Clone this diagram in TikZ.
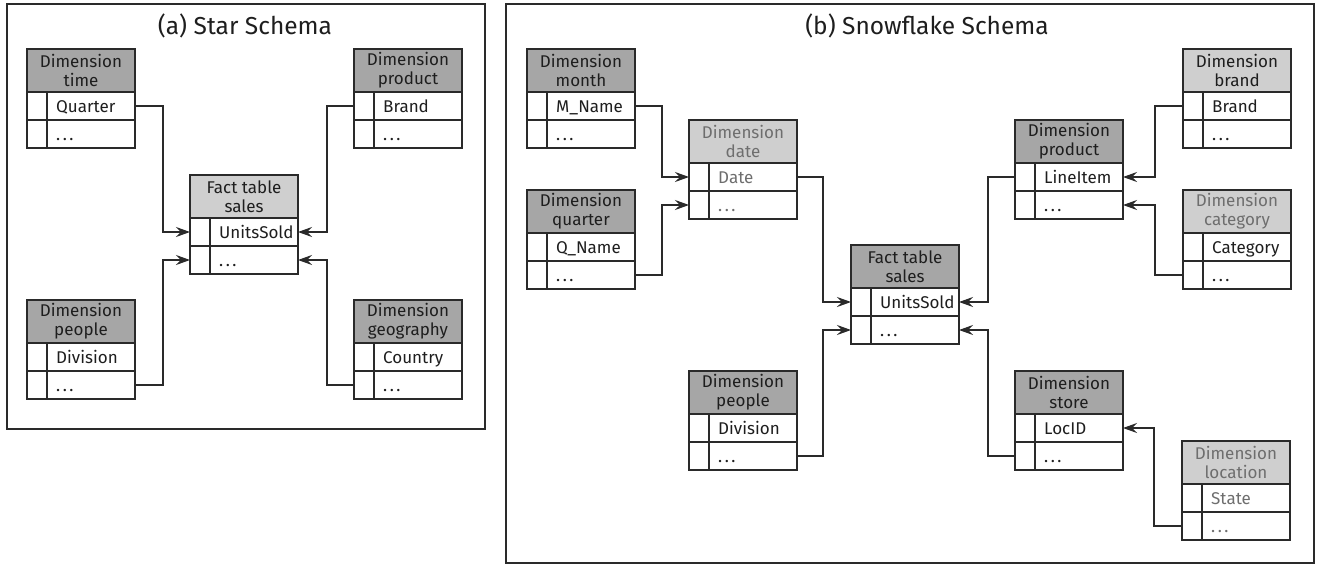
\documentclass[tikz,border=0pt]{standalone}
\usepackage{fontspec}
\setmainfont{Fira Sans}
\usetikzlibrary{arrows.meta}
\definecolor{hdark}{HTML}{A6A6A6}
\definecolor{hlight}{HTML}{CFCFCF}
\definecolor{lnc}{HTML}{2A2A2A}
\definecolor{tgray}{HTML}{6E6E6E}
\definecolor{tblack}{HTML}{1E1E1E}
\newcommand{\tabfont}{\fontsize{17}{19}\selectfont}
\tikzset{
  hdr/.style={draw=lnc, line width=1.3pt, anchor=north west, minimum width=108pt,
    minimum height=43pt, inner sep=0pt, outer sep=0pt, align=center, font=\tabfont},
  rowbox/.style={draw=lnc, line width=1.3pt, anchor=north west, minimum width=108pt,
    minimum height=28pt, inner sep=0pt, outer sep=0pt},
  fieldtxt/.style={anchor=base west, inner sep=0pt, font=\tabfont},
  link/.style={draw=lnc, line width=1.2pt, -{Stealth[length=14pt,width=10pt,inset=5pt]}},
  panel/.style={draw=lnc, line width=1.3pt},
  titletxt/.style={font=\fontsize{24.5}{28}\selectfont, text=tblack, inner sep=0pt},
}
% #1 name, #2 x, #3 y, #4 header fill, #5 header text colour, #6 header text, #7 field, #8 row text colour
\newcommand{\dtab}[8]{%
  \node[hdr, fill=#4, text=#5] (#1) at (#2,#3) {#6};
  \node[rowbox] (#1-1) at (#2,#3+43) {};
  \node[rowbox] (#1-2) at (#2,#3+71) {};
  \draw[lnc, line width=1.3pt] (#2+20,#3+43) -- (#2+20,#3+99);
  \node[fieldtxt, text=#8] (#1-f) at (#2+29,#3+63) {#7};
  \node[fieldtxt, text=#8] (#1-d) at (#2+29,#3+91) {.\hspace{2.5pt}.\hspace{2.5pt}.};
}
\begin{document}
\begin{tikzpicture}[x=1pt, y=-1pt]
\useasboundingbox (0,0) rectangle (1322,571);
\fill[white] (0,0) rectangle (1322,571);
% panels
\draw[panel] (7,4) rectangle (485,429);
\draw[panel] (506,4) rectangle (1314,563);
\node[titletxt] (ta) at (245,26) {(a) Star Schema};
\node[titletxt] (tb) at (927,26) {(b) Snowflake Schema};
% (a) star schema
\dtab{atime}{27}{49}{hdark}{tblack}{Dimension\\time}{Quarter}{tblack}
\dtab{aprod}{354}{49}{hdark}{tblack}{Dimension\\product}{Brand}{tblack}
\dtab{afact}{190}{175}{hlight}{tblack}{Fact table\\sales}{UnitsSold}{tblack}
\dtab{apeople}{27}{300}{hdark}{tblack}{Dimension\\people}{Division}{tblack}
\dtab{ageo}{354}{300}{hdark}{tblack}{Dimension\\geography}{Country}{tblack}
\draw[link] (atime-1.east) -- ++(28,0) |- (afact-1.west);
\draw[link] (apeople-2.east) -- ++(28,0) |- (afact-2.west);
\draw[link] (aprod-1.west) -- ++(-27,0) |- (afact-1.east);
\draw[link] (ageo-2.west) -- ++(-27,0) |- (afact-2.east);
% (b) snowflake schema
\dtab{bmonth}{527}{49}{hdark}{tblack}{Dimension\\month}{M\_Name}{tblack}
\dtab{bdate}{689}{120}{hlight}{tgray}{Dimension\\date}{Date}{tgray}
\dtab{bquarter}{527}{190}{hdark}{tblack}{Dimension\\quarter}{Q\_Name}{tblack}
\dtab{bfact}{851}{245}{hdark}{tblack}{Fact table\\sales}{UnitsSold}{tblack}
\dtab{bpeople}{689}{371}{hdark}{tblack}{Dimension\\people}{Division}{tblack}
\dtab{bprod}{1015}{120}{hdark}{tblack}{Dimension\\product}{LineItem}{tblack}
\dtab{bbrand}{1183}{49}{hlight}{tblack}{Dimension\\brand}{Brand}{tblack}
\dtab{bcat}{1183}{190}{hlight}{tgray}{Dimension\\category}{Category}{tblack}
\dtab{bstore}{1015}{371}{hdark}{tblack}{Dimension\\store}{LocID}{tblack}
\dtab{bloc}{1182}{441}{hlight}{tgray}{Dimension\\location}{State}{tgray}
\draw[link] (bmonth-1.east) -- ++(27,0) |- (bdate-1.west);
\draw[link] (bquarter-2.east) -- ++(27,0) |- (bdate-2.west);
\draw[link] (bdate-1.east) -- ++(26,0) |- (bfact-1.west);
\draw[link] (bpeople-2.east) -- ++(26,0) |- (bfact-2.west);
\draw[link] (bbrand-1.west) -- ++(-28,0) |- (bprod-1.east);
\draw[link] (bcat-2.west) -- ++(-28,0) |- (bprod-2.east);
\draw[link] (bprod-1.west) -- ++(-27,0) |- (bfact-1.east);
\draw[link] (bstore-2.west) -- ++(-27,0) |- (bfact-2.east);
\draw[link] (bloc-2.west) -- ++(-28,0) |- (bstore-1.east);
\end{tikzpicture}
\end{document}
